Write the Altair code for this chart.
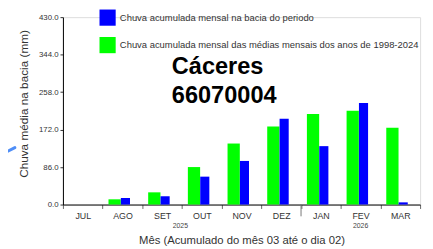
import altair as alt
import pandas as pd

months = ["JUL", "AGO", "SET", "OUT", "NOV", "DEZ", "JAN", "FEV", "MAR"]
periodo = [0, 15, 19, 64, 100, 197, 134, 233, 5]
medias = [0, 12, 28, 86, 140, 179, 208, 215, 176]
serie_periodo = "Chuva acumulada mensal na bacia do periodo"
serie_medias = "Chuva acumulada mensal das médias mensais dos anos de 1998-2024"
y_ticks = [0, 86, 172, 258, 344, 430]
year_months = ["SET", "FEV"]
year_labels = ["2025", "2026"]
station = "Cáceres\n66070004"

FONT = "Liberation Sans"

rows = []
for m, v in zip(months, medias):
    rows.append({"mes": m, "valor": v, "serie": serie_medias})
for m, v in zip(months, periodo):
    rows.append({"mes": m, "valor": v, "serie": serie_periodo})
df = pd.DataFrame(rows)

xscale = alt.Scale(domain=months, paddingInner=0, paddingOuter=0)
color = alt.Color(
    "serie:N",
    scale=alt.Scale(domain=[serie_periodo, serie_medias], range=["#0000FF", "#00FF00"]),
    legend=alt.Legend(
        orient="none", legendX=37, legendY=-8, title=None,
        symbolType="square", symbolSize=272, symbolStrokeWidth=0, symbolOpacity=1,
        labelFontSize=9.6, labelColor="#333333", labelFont=FONT,
        rowPadding=11, labelOffset=4, padding=0, labelLimit=400,
    ),
)

xaxis = alt.Axis(
    title="Mês (Acumulado do mês 03 até o dia 02)", labelAngle=0, tickBand="extent",
    tickSize=4, tickColor="#666666", labelFontSize=9, labelPadding=3, labelColor="#333333",
    titleFontSize=11.5, titleFontWeight="normal", titleColor="#333333",
    titleY=37, titleBaseline="middle", domainColor="black", grid=False,
)
yaxis = alt.Axis(
    title="Chuva média na bacia (mm)", values=y_ticks, tickCount=12, format=".1f",
    labelOverlap=False,
    tickSize=3, tickColor="#333333", labelPadding=2, labelFontSize=8, labelColor="#333333",
    titleFontSize=12, titleFontWeight="normal", titleColor="#333333",
    titleX=-40, titleY=88, titleBaseline="middle", domainColor="black", grid=False,
)

base = alt.Chart(df)
green = base.transform_filter(alt.datum.serie == serie_medias).mark_bar(
    width=12.5, xOffset=-8
).encode(
    x=alt.X("mes:N", scale=xscale, axis=xaxis, sort=months),
    y=alt.Y("valor:Q", scale=alt.Scale(domain=[0, 430], nice=False), axis=yaxis),
    color=color,
)
blue = base.transform_filter(alt.datum.serie == serie_periodo).mark_bar(
    width=9.3, xOffset=3
).encode(
    x=alt.X("mes:N", scale=xscale, sort=months),
    y=alt.Y("valor:Q", axis=yaxis),
    color=color,
)

years_df = pd.DataFrame({"mes": year_months, "ano": year_labels})
y2025 = alt.Chart(years_df.iloc[[0]]).mark_text(
    fontSize=7, color="#444444", font=FONT, dx=18.5
).encode(x=alt.X("mes:N", scale=xscale, sort=months), y=alt.value(213), text="ano:N")
y2026 = alt.Chart(years_df.iloc[[1]]).mark_text(
    fontSize=7, color="#444444", font=FONT
).encode(x=alt.X("mes:N", scale=xscale, sort=months), y=alt.value(213), text="ano:N")

sep_df = pd.DataFrame({"mes": ["JAN"]})
sep = alt.Chart(sep_df).mark_rule(color="#777777", strokeWidth=1).encode(
    x=alt.X("mes:N", scale=xscale, sort=months, bandPosition=0),
    y=alt.value(191), y2=alt.value(203),
)

title_df = pd.DataFrame({"t": [station]})
title = alt.Chart(title_df).mark_text(
    align="left", baseline="alphabetic", fontSize=24, fontWeight="bold",
    font=FONT, color="black", lineBreak="\n", lineHeight=30,
).encode(x=alt.value(111), y=alt.value(58), text="t:N")

arrow = alt.Chart(sep_df).mark_rule(color="#4F8EF7", strokeWidth=3, strokeCap="round").encode(
    x=alt.value(-57), x2=alt.value(-49), y=alt.value(137), y2=alt.value(133),
)

chart = alt.layer(green, blue, y2025, y2026, sep, title, arrow).properties(
    width=364, height=191,
    padding={"left": 56, "top": 7, "right": 5, "bottom": 43},
    autosize="none",
    background="white",
).configure_view(stroke=None).configure(font=FONT)

chart.save("out.html", embed_options={"renderer": "svg", "actions": False})
